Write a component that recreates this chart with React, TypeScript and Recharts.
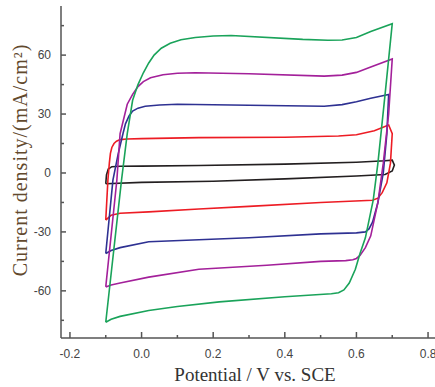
import { LineChart, Line, XAxis, YAxis } from 'recharts';

// cyclic voltammograms, [potential V, current density mA/cm2], drawn in scan order
const blackLoop = [
  [-0.1, -5.5], [-0.098, -1], [-0.093, 2], [-0.083, 3.2], [-0.06, 3.4], [0, 3.5], [0.16, 3.8],
  [0.4, 4.5], [0.6, 5.5], [0.68, 6.2], [0.7, 6.5], [0.706, 4], [0.7, 1], [0.68, -0.8],
  [0.6, -1.5], [0.4, -3], [0.2, -4.2], [0, -4.8], [-0.1, -5.5],
];
const redLoop = [
  [-0.1, -24], [-0.094, -3.6], [-0.09, 5], [-0.087, 10], [-0.083, 13], [-0.077, 15], [-0.07, 16.2],
  [-0.06, 17], [-0.04, 17.3], [0, 17.5], [0.16, 18], [0.4, 18.2], [0.55, 18.8], [0.6, 19.5],
  [0.65, 21.5], [0.69, 24.4], [0.7, 20], [0.695, 5], [0.685, -5], [0.672, -10], [0.66, -12.8],
  [0.645, -13.9], [0.5, -15], [0.3, -17], [0.16, -18.3], [0.02, -19.8], [-0.06, -20.5],
  [-0.085, -21.5], [-0.1, -24],
];
const blueLoop = [
  [-0.1, -41], [-0.08, -3.6], [-0.065, 10], [-0.052, 20], [-0.045, 25], [-0.035, 29], [-0.025, 31.5],
  [-0.01, 33], [0.01, 34], [0.05, 34.6], [0.1, 35], [0.3, 34.5], [0.51, 34], [0.56, 34.8],
  [0.6, 36.3], [0.64, 38], [0.69, 40], [0.685, 20], [0.675, 0], [0.66, -15], [0.645, -25],
  [0.635, -28.5], [0.625, -30], [0.6, -30.5], [0.5, -31], [0.3, -33], [0.16, -34], [0.02, -35],
  [-0.06, -38], [-0.085, -39.5], [-0.1, -41],
];
const magentaLoop = [
  [-0.1, -58], [-0.069, -3.6], [-0.06, 20], [-0.04, 35], [-0.025, 40], [-0.01, 44], [0.005, 46.5],
  [0.025, 48.5], [0.06, 50], [0.1, 50.8], [0.15, 51], [0.3, 50.5], [0.51, 49.3], [0.56, 49.8],
  [0.6, 51.2], [0.64, 54], [0.7, 58], [0.69, 30], [0.675, 5], [0.66, -15], [0.64, -32],
  [0.625, -38], [0.61, -42], [0.6, -43.5], [0.59, -44.2], [0.57, -44.6], [0.5, -45], [0.35, -47],
  [0.16, -49], [0.02, -53], [-0.06, -56], [-0.085, -57], [-0.1, -58],
];
const greenLoop = [
  [-0.1, -76], [-0.056, -3.6], [-0.04, 20], [-0.025, 37], [-0.01, 45], [0.005, 51], [0.02, 56],
  [0.035, 60], [0.055, 63.5], [0.08, 66], [0.11, 67.8], [0.15, 69], [0.2, 69.7], [0.25, 70],
  [0.45, 68], [0.52, 67.6], [0.56, 67.7], [0.6, 69], [0.64, 72], [0.7, 76], [0.68, 40],
  [0.66, 5], [0.647, -13.7], [0.625, -33], [0.61, -41], [0.597, -49], [0.58, -56], [0.565, -59.5],
  [0.55, -61], [0.53, -61.5], [0.4, -63], [0.217, -65.6], [0.1, -68], [0.02, -70], [-0.06, -73],
  [-0.085, -74.5], [-0.1, -76],
];

const xTicks = [-0.2, -0.1, 0, 0.1, 0.2, 0.3, 0.4, 0.5, 0.6, 0.7, 0.8];
const yTicks = [-75, -60, -45, -30, -15, 0, 15, 30, 45, 60, 75];

const series = [
  { name: 'black', color: '#231f20', points: blackLoop },
  { name: 'red', color: '#ed1c24', points: redLoop },
  { name: 'blue', color: '#2e3192', points: blueLoop },
  { name: 'magenta', color: '#a3209a', points: magentaLoop },
  { name: 'green', color: '#1aa35a', points: greenLoop },
];

const AXIS = '#555';
const isMajorX = (v: number) => Math.abs(Math.round(v * 10)) % 2 === 0;
const isMajorY = (v: number) => v % 30 === 0;

function BottomTick({ x, y, payload }: any) {
  const major = isMajorX(payload.value);
  return (
    <g>
      <line x1={x} x2={x} y1={y} y2={y - (major ? 6 : 3)} stroke={AXIS} strokeWidth={1.5} />
      {major && (
        <text x={x} y={y + 20} textAnchor="middle" fill="#444" fontSize={12} fontFamily="Liberation Sans, Arial, sans-serif">
          {payload.value.toFixed(1)}
        </text>
      )}
    </g>
  );
}

function TopTick({ x, y, payload }: any) {
  const major = isMajorX(payload.value);
  return <line x1={x} x2={x} y1={y} y2={y + (major ? 5 : 3)} stroke={AXIS} strokeWidth={1.5} />;
}

function LeftTick({ x, y, payload }: any) {
  const major = isMajorY(payload.value);
  return (
    <g>
      <line x1={x} x2={x + (major ? 5 : 3)} y1={y} y2={y} stroke={AXIS} strokeWidth={1.5} />
      {major && (
        <text x={x - 10} y={y + 4} textAnchor="end" fill="#444" fontSize={12} fontFamily="Liberation Sans, Arial, sans-serif">
          {payload.value}
        </text>
      )}
    </g>
  );
}

export default function App() {
  return (
    <div style={{ position: 'absolute', left: 0, top: 0, width: 435, height: 387, overflow: 'hidden', background: '#fff' }}>
      <LineChart width={460} height={387} margin={{ top: 6, right: 23, bottom: 0, left: 0 }}>
        <XAxis
          xAxisId="bottom"
          dataKey="x"
          type="number"
          domain={[-0.225, 0.825]}
          ticks={xTicks}
          allowDataOverflow
          height={49}
          stroke={AXIS}
          strokeWidth={1.5}
          tickLine={false}
          tickSize={0}
          tickMargin={0}
          tick={<BottomTick />}
          interval={0}
          label={{
            value: 'Potential / V vs. SCE',
            position: 'insideBottom',
            offset: 6,
            dx: 6,
            fill: '#333',
            fontSize: 19,
            fontFamily: 'Liberation Serif, Times New Roman, serif',
          }}
        />
        <XAxis
          xAxisId="top"
          orientation="top"
          dataKey="x"
          type="number"
          domain={[-0.225, 0.825]}
          ticks={xTicks}
          allowDataOverflow
          height={0}
          stroke={AXIS}
          strokeWidth={1.5}
          tickLine={false}
          tickSize={0}
          tickMargin={0}
          tick={<TopTick />}
          interval={0}
        />
        <YAxis
          yAxisId="left"
          type="number"
          domain={[-84, 85]}
          ticks={yTicks}
          allowDataOverflow
          width={61}
          stroke={AXIS}
          strokeWidth={1.5}
          tickLine={false}
          tickSize={0}
          tickMargin={0}
          tick={<LeftTick />}
          interval={0}
          label={{
            value: 'Current density/(mA/cm²)',
            angle: -90,
            position: 'insideLeft',
            offset: 20,
            dy: -12,
            fill: '#62492d',
            fontSize: 20,
            letterSpacing: 1,
            fontFamily: 'Liberation Serif, Times New Roman, serif',
            style: { textAnchor: 'middle' },
          }}
        />
        {series.map((s) => (
          <Line
            key={s.name}
            xAxisId="bottom"
            yAxisId="left"
            data={s.points.map(([x, y]) => ({ x, y }))}
            dataKey="y"
            stroke={s.color}
            strokeWidth={1.6}
            dot={false}
            activeDot={false}
            type="linear"
            isAnimationActive={false}
          />
        ))}
      </LineChart>
    </div>
  );
}
